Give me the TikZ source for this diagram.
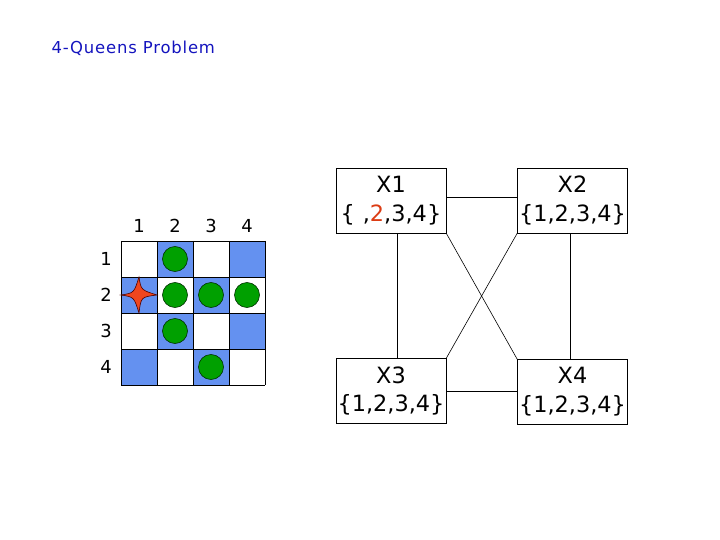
\documentclass[tikz,border=0pt]{standalone}
\usepackage{fontspec}
\setmainfont{DejaVu Sans}
\definecolor{cellblue}{RGB}{100,145,240}
\definecolor{qgreen}{RGB}{0,160,0}
\definecolor{starred}{RGB}{240,70,30}
\definecolor{titleblue}{RGB}{20,20,190}
\definecolor{numred}{RGB}{220,60,20}
\begin{document}
\begin{tikzpicture}[x=1bp,y=-1bp,
  varbox/.style={draw, line width=0.6bp, minimum width=110bp, minimum height=65bp, align=center, inner sep=0pt, font=\fontsize{22.5}{29}\selectfont},
  edge/.style={line width=0.6bp},
  queen/.style={fill=qgreen, draw=black!80!green, line width=0.6bp},
  lbl/.style={font=\fontsize{18}{20}\selectfont}]
\useasboundingbox (0,0) rectangle (720,540);
% title
\node[anchor=west, text=titleblue, font=\fontsize{16.5}{19}\selectfont\addfontfeature{LetterSpace=5}] (title) at (48,48) {4-Queens Problem};
% board
\foreach \r in {1,...,4}{
  \foreach \c in {1,...,4}{
    \pgfmathtruncatemacro{\myparity}{mod(\r+\c,2)}
    \ifnum\myparity=1
      \fill[cellblue] ({121+36*(\c-1)},{241+36*(\r-1)}) rectangle ++(36,36);
    \fi
  }
}
\foreach \i in {0,...,4}{
  \draw[line width=0.8bp] ({121+36*\i},241) -- ({121+36*\i},385);
  \draw[line width=0.8bp] (121,{241+36*\i}) -- (265,{241+36*\i});
}
\foreach \c in {1,...,4}{\node[lbl] (col\c) at ({139+36*(\c-1)},226) {\c};}
\foreach \r in {1,...,4}{\node[lbl] (row\r) at (106,{259+36*(\r-1)}) {\r};}
% queens
\foreach \r/\c in {1/2,2/2,2/3,2/4,3/2,4/3}{
  \draw[queen] ({139+36*(\c-1)},{259+36*(\r-1)}) circle (12.5);
}
% star
\draw[fill=starred, draw=black!70!red, line width=0.6bp]
  (121,295) .. controls (134,293) .. (139,277)
  .. controls (141,290) .. (157,295)
  .. controls (141,297) .. (139,313)
  .. controls (134,297) .. cycle;
% variable boxes
\node[varbox] (x1) at (391,200.5) {X1\\\{\hspace{0.35em},\textcolor{numred}{2},3,4\}};
\node[varbox] (x2) at (572.5,200.5) {X2\\\{1,2,3,4\}};
\node[varbox] (x3) at (391,391) {X3\\\{1,2,3,4\}};
\node[varbox] (x4) at (572.5,392) {X4\\\{1,2,3,4\}};
% constraints
\draw[edge] (x1.east) ++(0,-3) coordinate (a) -- (a -| x2.west);
\draw[edge] (x3.east) -- (x3.east -| x4.west);
\draw[edge] ([xshift=6bp]x1.south) -- ([xshift=6bp]x1.south |- x3.north);
\draw[edge] ([xshift=-2bp]x2.south) -- ([xshift=-2bp]x2.south |- x4.north);
\draw[edge] (x1.south east) -- (x4.north west);
\draw[edge] (x2.south west) -- (x3.north east);
\end{tikzpicture}
\end{document}
